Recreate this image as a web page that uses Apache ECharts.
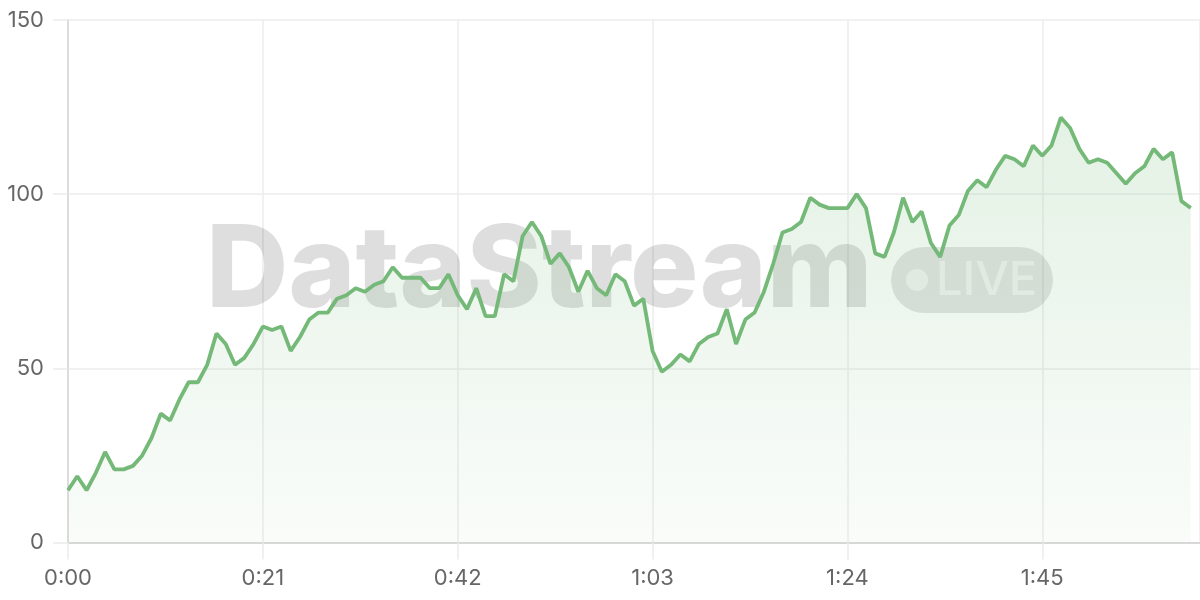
<!DOCTYPE html>
<html>
<head>
<meta charset="utf-8">
<script src="https://cdn.jsdelivr.net/npm/echarts@6/dist/echarts.min.js"></script>
<style>
html,body{margin:0;padding:0;background:#fff;}
#chart{width:1200px;height:600px;}
</style>
</head>
<body>
<div id="chart"></div>
<script>
// Value per second, 0:00 .. 2:01
var values = [15,19,15,20,26,21,21,22,25,30,37,35,41,46,46,51,60,57,51,53,57,62,61,62,55,59,64,66,66,70,
  71,73,72,74,75,79,76,76,76,73,73,77,71,67,73,65,65,77,75,88,92,88,80,83,79,72,78,73,71,77,
  75,68,70,55,49,51,54,52,57,59,60,67,57,64,66,72,80,89,90,92,99,97,96,96,96,100,96,83,82,89,
  99,92,95,86,82,91,94,101,104,102,107,111,110,108,114,111,114,122,119,113,109,110,109,106,103,106,108,113,110,112,
  98,96];
var xMin = 0, xMax = 122, xInterval = 21;
var yMin = 0, yMax = 150, yInterval = 50;
var watermarkText = 'DataStream';
var badgeText = 'LIVE';

function fmtTime(s){
  var m = Math.floor(s/60), r = Math.round(s%60);
  return m + ':' + (r < 10 ? '0' + r : r);
}

var chart = echarts.init(document.getElementById('chart'));
var FONT = 'Inter, "Liberation Sans", Arial, sans-serif';
chart.setOption({
  animation: false,
  backgroundColor: '#fff',
  grid: {left: 68, right: 0, top: 20, bottom: 57.5},
  xAxis: {
    type: 'value', min: xMin, max: xMax, interval: xInterval,
    axisLine: {show: true, lineStyle: {color: '#cfcfcf', width: 1.5}},
    axisTick: {show: true, length: 17, lineStyle: {color: '#ececec', width: 1.5}},
    splitLine: {show: true, lineStyle: {color: '#ececec', width: 1.5}},
    axisLabel: {formatter: fmtTime, color: '#666', fontSize: 22, fontFamily: FONT, margin: 25,
      showMaxLabel: false}
  },
  yAxis: {
    type: 'value', min: yMin, max: yMax, interval: yInterval,
    axisLine: {show: true, lineStyle: {color: '#d4d4d4', width: 1.5}},
    axisTick: {show: true, length: 15, lineStyle: {color: '#ececec', width: 1.5}},
    splitLine: {show: true, lineStyle: {color: '#ececec', width: 1.5}},
    axisLabel: {color: '#666', fontSize: 22, fontFamily: FONT, margin: 24}
  },
  graphic: [
    {type: 'text', z: 1, left: 206, top: 216, silent: true,
      style: {text: watermarkText, fill: 'rgba(0,0,0,0.13)', font: '800 114px ' + FONT}},
    {type: 'rect', z: 1, shape: {x: 891, y: 247, width: 162, height: 66, r: 33}, silent: true,
      style: {fill: 'rgba(0,0,0,0.11)'}},
    {type: 'circle', z: 1, shape: {cx: 917, cy: 280, r: 11}, silent: true,
      style: {fill: 'rgba(255,255,255,0.55)'}},
    {type: 'text', z: 1, left: 936, top: 257, silent: true,
      style: {text: badgeText, fill: 'rgba(255,255,255,0.55)', font: '500 47px ' + FONT}}
  ],
  series: [{
    type: 'line', z: 5,
    data: values.map(function(v, i){ return [i, v]; }),
    symbol: 'none',
    lineStyle: {color: '#74b978', width: 3.8},
    areaStyle: {
      color: new echarts.graphic.LinearGradient(0, 0, 0, 1, [
        {offset: 0, color: 'rgba(116,185,120,0.28)'},
        {offset: 1, color: 'rgba(116,185,120,0.06)'}
      ])
    }
  }]
});
</script>
</body>
</html>
